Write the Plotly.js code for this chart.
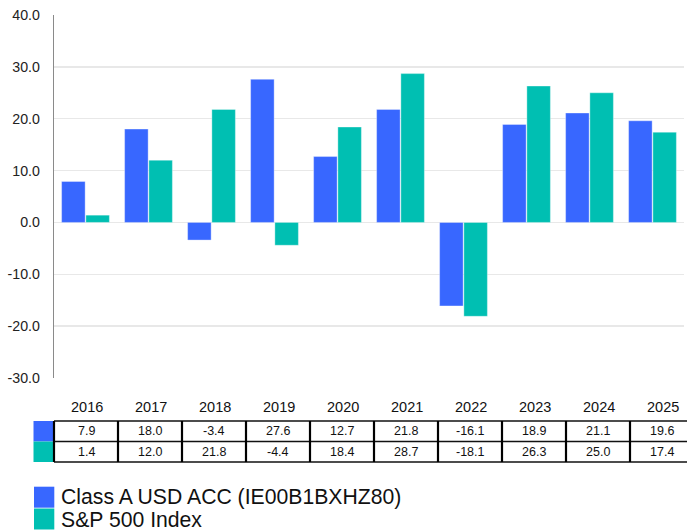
<!DOCTYPE html>
<html>
<head>
<meta charset="utf-8">
<script src="https://cdn.plot.ly/plotly-3.0.1.min.js"></script>
<style>html,body{margin:0;padding:0;background:#fff;}#chart{width:687px;height:530px;}</style>
</head>
<body>
<div id="chart"></div>
<script>
var years = ['2016','2017','2018','2019','2020','2021','2022','2023','2024','2025'];
var fundValues = [7.9, 18.0, -3.4, 27.6, 12.7, 21.8, -16.1, 18.9, 21.1, 19.6];
var indexValues = [1.4, 12.0, 21.8, -4.4, 18.4, 28.7, -18.1, 26.3, 25.0, 17.4];
var seriesNames = ['Class A USD ACC (IE00B1BXHZ80)', 'S&P 500 Index'];
var seriesColors = ['#3867FF', '#00BFB2'];
var yTicks = [-30, -20, -10, 0, 10, 20, 30, 40];
var yTickLabels = ['-30.0', '-20.0', '-10.0', '0.0', '10.0', '20.0', '30.0', '40.0'];

var W = 687, H = 530;
var mL = 54, mR = 3, mT = 15, mB = 152;
var pw = W - mL - mR, ph = H - mT - mB;
function px2x(px){ return (px - mL) / pw; }
function py2y(py){ return (H - mB - py) / ph; }

var font = 'Liberation Sans, Arial, sans-serif';
var allSeries = [fundValues, indexValues];

var traces = allSeries.map(function(vals, i){
  return {
    type: 'bar', x: years, y: vals, name: seriesNames[i],
    marker: {color: seriesColors[i], line: {color: 'rgba(255,255,255,0.35)', width: 1}},
    hoverinfo: 'x+y'
  };
});

var shapes = [], annotations = [];
var colW = 64, tableLeft = 54;
var rowTops = [421, 441.5], rowH = 20.5;

// year header
years.forEach(function(yr, k){
  annotations.push({xref:'paper', yref:'paper', x: px2x(tableLeft + colW*k + colW/2 + 1), y: py2y(407),
    text: yr, showarrow:false, xanchor:'center', yanchor:'middle',
    font:{family:font, size:14.5, color:'#111'}});
});
// rows
allSeries.forEach(function(vals, r){
  var top = rowTops[r];
  shapes.push({type:'rect', xref:'paper', yref:'paper', x0: px2x(33.5), x1: px2x(54), y0: py2y(top), y1: py2y(top+rowH),
    fillcolor: seriesColors[r], line:{width:0}});
  vals.forEach(function(v, k){
    annotations.push({xref:'paper', yref:'paper', x: px2x(tableLeft + colW*k + colW/2), y: py2y(top + rowH/2),
      text: v.toFixed(1), showarrow:false, xanchor:'center', yanchor:'middle',
      font:{family:font, size:12.5, color:'#111'}});
  });
});
// horizontal borders
[421, 441.5, 462].forEach(function(py){
  shapes.push({type:'line', xref:'paper', yref:'paper', x0: px2x(54), x1: px2x(687), y0: py2y(py), y1: py2y(py),
    line:{color:'#111', width:1.5}});
});
// vertical borders
years.forEach(function(yr, k){
  var xx = tableLeft + colW*k;
  shapes.push({type:'line', xref:'paper', yref:'paper', x0: px2x(xx), x1: px2x(xx), y0: py2y(421), y1: py2y(462),
    line:{color:'#000', width:2.2}});
});
// custom legend
seriesNames.forEach(function(nm, i){
  var top = [486.7, 508.5][i];
  shapes.push({type:'rect', xref:'paper', yref:'paper', x0: px2x(34), x1: px2x(54.3), y0: py2y(top), y1: py2y(top+21),
    fillcolor: seriesColors[i], line:{width:0}});
  annotations.push({xref:'paper', yref:'paper', x: px2x(59), y: py2y(top+10.5), text: nm.replace('&','&amp;'),
    showarrow:false, xanchor:'left', yanchor:'middle', font:{family:font, size:21.2, color:'#111'}});
});

var layout = {
  width: W, height: H,
  margin: {l: mL, r: mR, t: mT, b: mB, pad: 0},
  paper_bgcolor: '#fff', plot_bgcolor: '#fff',
  showlegend: false,
  barmode: 'group', bargap: 0.23, bargroupgap: 0.03,
  xaxis: {type:'category', showticklabels:false, showgrid:false, showline:false, zeroline:false, ticks:'', fixedrange:true},
  yaxis: {range:[-30, 40], tickmode:'array', tickvals: yTicks, ticktext: yTickLabels, showgrid:true, gridcolor:'#e8e8e8', gridwidth:1.5,
    zeroline:false, showline:true, linecolor:'#8a8a8a', linewidth:1.2, ticks:'', ticklabelstandoff: 10,
    tickfont:{family:font, size:14.2, color:'#222'}, fixedrange:true},
  shapes: shapes,
  annotations: annotations
};

Plotly.newPlot('chart', traces, layout, {displayModeBar:false, staticPlot:true});
</script>
</body>
</html>
